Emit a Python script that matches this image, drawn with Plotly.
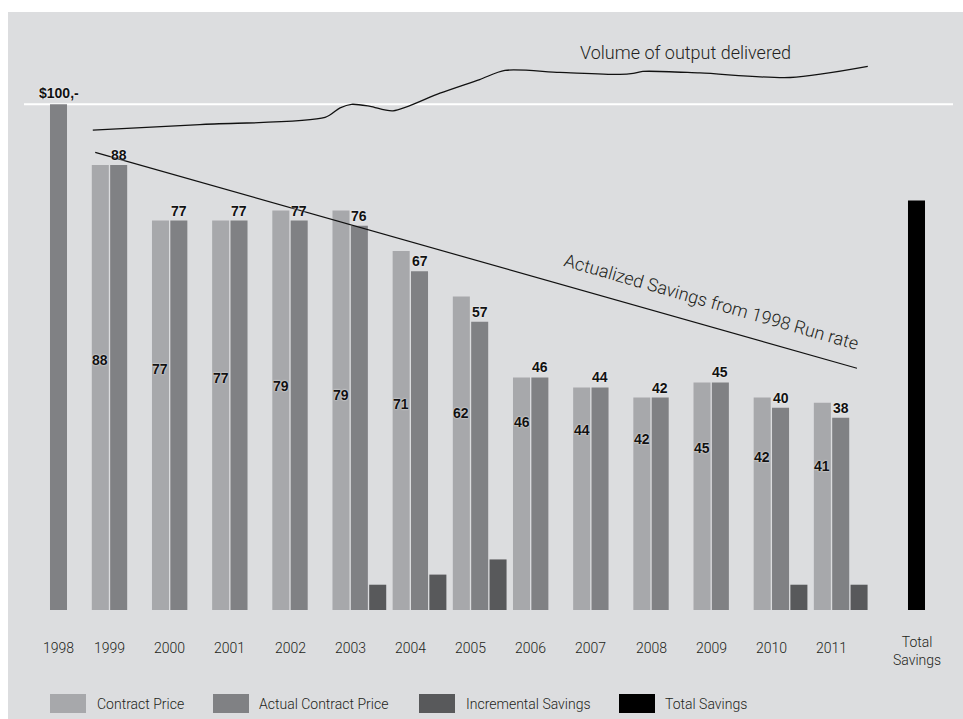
import plotly.graph_objects as go

# ---------------- data ----------------
YEARS = ["1998", "1999", "2000", "2001", "2002", "2003", "2004",
         "2005", "2006", "2007", "2008", "2009", "2010", "2011"]
CONTRACT_PRICE = [None, 88, 77, 77, 79, 79, 71, 62, 46, 44, 42, 45, 42, 41]
ACTUAL_CONTRACT_PRICE = [100, 88, 77, 77, 77, 76, 67, 57, 46, 44, 42, 45, 40, 38]
INCREMENTAL_SAVINGS = [None, None, None, None, None, 5, 7, 10, None, None, None, None, 5, 5]
TOTAL_SAVINGS = 81
TOTAL_LABEL = "Total<br>Savings"
LEGEND_NAMES = ["Contract Price", "Actual Contract Price", "Incremental Savings", "Total Savings"]

# run-rate line (start / end, in year-index units and price units)
RUN_RATE_X = [0.61, 13.27]
RUN_RATE_Y = [90.5, 47.8]

# volume of output delivered (index units, drawn in price units)
VOLUME_X = [0.57, 2.35, 4.43, 4.68, 4.87, 5.18, 5.56, 6.34, 7.0, 7.42, 8.33, 9.33, 9.55, 9.71, 10.66, 12.16, 13.45]
VOLUME_Y = [94.9, 96.0, 97.4, 99.3, 100.0, 99.6, 98.7, 102.2, 104.9, 106.7, 106.3, 105.9, 106.1, 106.5, 106.2, 105.3, 107.5]

# ---------------- styling ----------------
C_CONTRACT = "#a7a8ab"
C_ACTUAL = "#808184"
C_INCR = "#58595b"
C_TOTAL = "#000000"
BG = "#dcdddf"
TXT = "#231f20"
LIGHT = dict(family="Roboto, 'Liberation Sans', Arial, sans-serif", size=14, color=TXT, weight=300)
BOLD = dict(family="'Liberation Sans', Arial, sans-serif", size=14, color="#111111", weight="bold",
            shadow="0px 0px 2px #ffffff")

W, H = 963, 719
X0_PX, GROUP_PX = 58.5, 60.17      # pixel centre of first group, pixels per group
BASE_PX, UNIT_PX = 610.0, 5.057    # baseline pixel, pixels per price unit


def dx(px):
    return (px - X0_PX) / GROUP_PX


def dy(py):
    return (BASE_PX - py) / UNIT_PX


SLOT = 0.305
BW = 0.283
idx = list(range(len(YEARS)))

fig = go.Figure()
fig.add_trace(go.Bar(x=[i - SLOT for i in idx], y=CONTRACT_PRICE, width=BW,
                     marker=dict(color=C_CONTRACT, line=dict(width=0)), name=LEGEND_NAMES[0]))
fig.add_trace(go.Bar(x=idx, y=ACTUAL_CONTRACT_PRICE, width=BW,
                     marker=dict(color=C_ACTUAL, line=dict(width=0)), name=LEGEND_NAMES[1]))
fig.add_trace(go.Bar(x=[i + SLOT for i in idx], y=INCREMENTAL_SAVINGS, width=BW,
                     marker=dict(color=C_INCR, line=dict(width=0)), name=LEGEND_NAMES[2]))
fig.add_trace(go.Bar(x=[dx(916.5)], y=[TOTAL_SAVINGS], width=BW,
                     marker=dict(color=C_TOTAL, line=dict(width=0)), name=LEGEND_NAMES[3]))

fig.add_trace(go.Scatter(x=RUN_RATE_X, y=RUN_RATE_Y, mode="lines",
                         line=dict(color="#111111", width=1.2)))
fig.add_trace(go.Scatter(x=VOLUME_X, y=VOLUME_Y, mode="lines",
                         line=dict(color="#111111", width=1.3, shape="spline", smoothing=0.8)))

ann = []
# $100 label
ann.append(dict(x=0, y=ACTUAL_CONTRACT_PRICE[0], text="$100,-", showarrow=False,
                yanchor="bottom", xanchor="center", yshift=1, font=BOLD))
# labels above actual bars
for i in idx[1:]:
    ann.append(dict(x=i, y=ACTUAL_CONTRACT_PRICE[i], text=str(ACTUAL_CONTRACT_PRICE[i]),
                    showarrow=False, yanchor="bottom", xanchor="center", yshift=0, font=BOLD))
# labels inside contract bars (laid out on a descending diagonal)
for k, i in enumerate(idx[1:]):
    ann.append(dict(x=i - SLOT, y=dy(360 + 8.8 * k), text=str(CONTRACT_PRICE[i]),
                    showarrow=False, yanchor="middle", xanchor="center", font=BOLD))
# year labels
for i in idx:
    xpos = i if i == 0 else i - SLOT / 2
    ann.append(dict(x=xpos, y=dy(648), text=YEARS[i], showarrow=False,
                    yanchor="middle", xanchor="center", font=LIGHT))
ann.append(dict(x=dx(917), y=dy(650.5), text=TOTAL_LABEL, showarrow=False,
                yanchor="middle", xanchor="center", font=LIGHT))
# curve titles
ann.append(dict(x=dx(685), y=dy(52), text="Volume of output delivered", showarrow=False,
                yanchor="middle", xanchor="center", font=dict(LIGHT, size=18)))
ann.append(dict(x=dx(711), y=dy(301), text="Actualized Savings from 1998 Run rate", showarrow=False,
                yanchor="middle", xanchor="center", textangle=16, font=dict(LIGHT, size=18)))

# legend
shapes = [dict(type="line", xref="x", yref="y", x0=dx(24), x1=dx(953), y0=100, y1=100,
               line=dict(color="#ffffff", width=2), layer="below")]
leg_rects = [(50, 86, 95), (213, 249, 257), (419, 455, 464), (619, 655, 663)]
leg_cols = [C_CONTRACT, C_ACTUAL, C_INCR, C_TOTAL]
for (x0, x1, tx), col, name in zip(leg_rects, leg_cols, LEGEND_NAMES):
    shapes.append(dict(type="rect", xref="x", yref="y", x0=dx(x0), x1=dx(x1),
                       y0=dy(713), y1=dy(694), fillcolor=col, line=dict(width=0)))
    ann.append(dict(x=dx(tx), y=dy(703.5), text=name, showarrow=False,
                    xanchor="left", yanchor="middle", font=LIGHT))

fig.update_layout(
    width=W, height=H, autosize=False,
    margin=dict(l=8, r=0, t=12, b=0, pad=0),
    paper_bgcolor="#ffffff", plot_bgcolor=BG,
    barmode="overlay", showlegend=False, hovermode=False,
    xaxis=dict(range=[dx(8), dx(963)], visible=False, fixedrange=True),
    yaxis=dict(range=[dy(719), dy(12)], visible=False, fixedrange=True),
    annotations=ann, shapes=shapes,
)

fig.write_html("out.html")
